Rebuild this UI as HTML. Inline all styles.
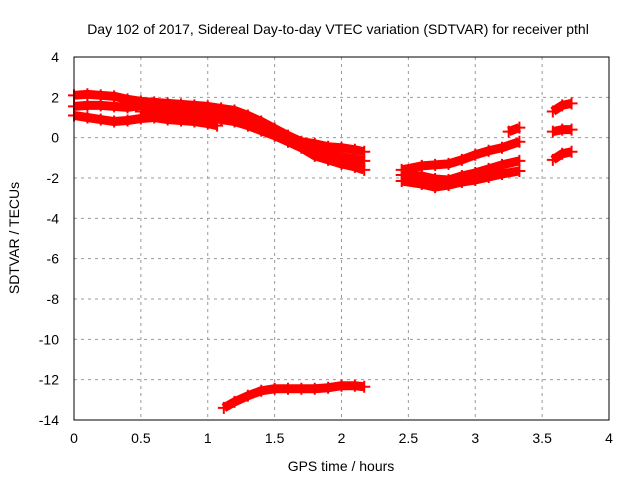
<!DOCTYPE html>
<html><head><meta charset="utf-8"><style>
body{margin:0;background:#fff}
svg text{font-family:"Liberation Sans",sans-serif;font-size:14px;fill:#000}
</style></head><body>
<svg width="640" height="480" id="c">
<rect width="640" height="480" fill="#fff"/>
<text x="338" y="34" text-anchor="middle">Day 102 of 2017, Sidereal Day-to-day VTEC variation (SDTVAR) for receiver pthl</text>
<text x="341" y="471" text-anchor="middle">GPS time / hours</text>
<text transform="translate(19,238) rotate(-90)" text-anchor="middle">SDTVAR / TECUs</text>
<g id="grid"></g><g id="data"></g>
<rect x="74" y="57" width="535" height="363" fill="none" stroke="#000"/>
</svg>
<script>
const xTicks=[0,0.5,1,1.5,2,2.5,3,3.5,4];
const yTicks=[4,2,0,-2,-4,-6,-8,-10,-12,-14];
const trackA=[[0,2.1],[0.1,2.15],[0.2,2.1],[0.3,2.05],[0.4,1.9],[0.5,1.8],[0.6,1.75],[0.7,1.7],[0.8,1.65],[0.9,1.6],[1,1.55],[1.1,1.45],[1.2,1.35],[1.3,1.1],[1.4,0.8],[1.5,0.45],[1.6,0.1],[1.7,-0.2],[1.8,-0.3],[1.9,-0.45],[2,-0.5],[2.1,-0.6],[2.17,-0.7]];
const trackB=[[0,1.55],[0.1,1.6],[0.2,1.6],[0.3,1.55],[0.4,1.5],[0.5,1.6],[0.6,1.5],[0.7,1.45],[0.8,1.4],[0.9,1.35],[1,1.3],[1.1,1.2],[1.2,1.1],[1.3,0.9],[1.4,0.6],[1.5,0.3],[1.6,0],[1.7,-0.4],[1.8,-0.7],[1.9,-0.85],[2,-0.95],[2.1,-1.05],[2.17,-1.15]];
const trackC=[[0,1.1],[0.1,1.0],[0.2,0.9],[0.3,0.8],[0.4,0.85],[0.5,0.95],[0.6,1.0],[0.7,0.9],[0.8,0.85],[0.9,0.8],[1,0.7],[1.07,0.6]];
const trackD=[[0.5,1.3],[0.7,1.2],[0.9,1.1],[1,1.0],[1.1,0.9],[1.2,0.8],[1.3,0.6],[1.4,0.35],[1.5,0.1],[1.6,-0.2],[1.7,-0.5],[1.8,-0.9],[1.9,-1.1],[2,-1.3],[2.1,-1.45],[2.17,-1.6]];
const trackLow=[[1.12,-13.4],[1.2,-13.1],[1.3,-12.8],[1.4,-12.55],[1.5,-12.45],[1.6,-12.45],[1.7,-12.45],[1.8,-12.45],[1.9,-12.4],[2,-12.3],[2.1,-12.3],[2.17,-12.35]];
const trackE=[[2.45,-1.6],[2.6,-1.4],[2.7,-1.35],[2.8,-1.3],[2.9,-1.1],[3,-0.85],[3.1,-0.65],[3.2,-0.5],[3.33,-0.2]];
const trackE2=[[3.25,0.3],[3.33,0.5]];
const trackF=[[2.45,-1.85],[2.6,-1.9],[2.7,-2.05],[2.8,-2.1],[2.9,-1.9],[3,-1.75],[3.1,-1.55],[3.2,-1.35],[3.33,-1.15]];
const trackG=[[2.45,-2.15],[2.6,-2.3],[2.7,-2.45],[2.8,-2.35],[2.9,-2.2],[3,-2.1],[3.1,-1.95],[3.2,-1.8],[3.33,-1.65]];
const trackH1=[[3.58,1.3],[3.65,1.6],[3.72,1.7]];
const trackH2=[[3.58,0.3],[3.65,0.4],[3.72,0.4]];
const trackH3=[[3.58,-1.1],[3.65,-0.8],[3.72,-0.7]];
const series=[trackA,trackB,trackC,trackD,trackLow,trackE,trackE2,trackF,trackG,trackH1,trackH2,trackH3];
const NS='http://www.w3.org/2000/svg';
const X=h=>74+h*133.75, Y=v=>57+(4-v)*20.167;
const g=document.getElementById('grid'), d=document.getElementById('data');
function mk(tag,at,par){const e=document.createElementNS(NS,tag);for(const k in at)e.setAttribute(k,at[k]);par.appendChild(e);return e;}
xTicks.forEach(t=>{
 if(t>0&&t<4){const l=mk('line',{x1:X(t),x2:X(t),y1:57,y2:420,stroke:'#999','stroke-dasharray':'3,4'},g);
 
 }
 const tx=mk('text',{x:X(t),y:443,'text-anchor':'middle'},g);tx.textContent=t;
 
 
});
yTicks.forEach(t=>{
 if(t<4&&t>-14){const l=mk('line',{x1:74,x2:609,y1:Y(t),y2:Y(t),stroke:'#999','stroke-dasharray':'3,4'},g);
 
 }
 const tx=mk('text',{x:59,y:Y(t)+5,'text-anchor':'end'},g);tx.textContent=t;
 
 
});
series.forEach(s=>{
 const pl=mk('polyline',{points:s.map(p=>X(p[0])+','+Y(p[1])).join(' '),fill:'none',stroke:'#f00','stroke-width':9,'stroke-linejoin':'round'},d);
 
 
 s.forEach(p=>{const x=X(p[0]),y=Y(p[1]);
  const m=mk('path',{d:`M${x-6},${y}H${x+6}M${x},${y-6}V${y+6}`,stroke:'#f00','stroke-width':2},d);
  
  
 });
});
</script>
</body></html>
